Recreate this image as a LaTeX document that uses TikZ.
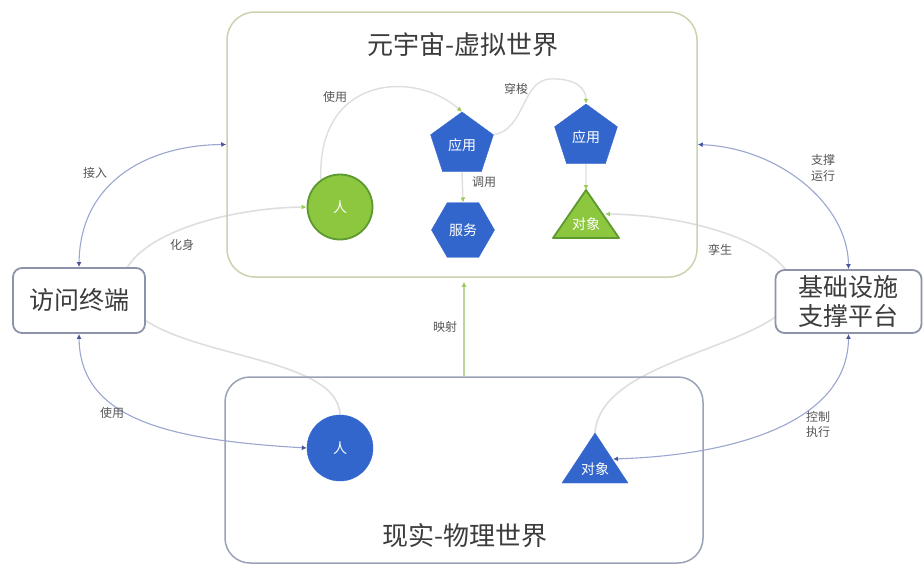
\documentclass[tikz,border=0pt]{standalone}
\usepackage{fontspec}
\setmainfont{Noto Sans CJK SC}
\usetikzlibrary{shapes.geometric,arrows.meta,backgrounds}
\definecolor{nblue}{HTML}{3366CC}
\definecolor{ngreen}{HTML}{8DC63F}
\definecolor{ngreenD}{HTML}{5C9A30}
\definecolor{topframe}{HTML}{C9D3AE}
\definecolor{botframe}{HTML}{9AA2B8}
\definecolor{boxframe}{HTML}{8D94AA}
\definecolor{linkblue}{HTML}{9AA6CF}
\definecolor{tipblue}{HTML}{45569C}
\definecolor{lightlink}{HTML}{DEDEDE}
\definecolor{tipgreen}{HTML}{9CCB55}
\definecolor{maplink}{HTML}{B9D894}
\definecolor{titlegray}{HTML}{3C3C3C}
\definecolor{labelgray}{HTML}{555555}
\tikzset{
  bluetip/.tip={Latex[length=5pt,width=5pt,color=tipblue]},
  greentip/.tip={Latex[length=5pt,width=5pt,color=tipgreen]},
}
\begin{document}
\begin{tikzpicture}[x=1pt,y=-1pt,
  bigbox/.style={draw, line width=1.5pt, rounded corners=28pt, inner sep=0},
  sidebox/.style={draw=boxframe, line width=1.8pt, fill=white, rounded corners=9pt, inner sep=0, align=center, text=titlegray, font=\fontsize{25}{29}\selectfont},
  bluefill/.style={fill=nblue, draw=nblue, text=white, inner sep=0, font=\fontsize{14}{16}\selectfont},
  greenfill/.style={fill=ngreen, draw=ngreenD, line width=1.8pt, text=white, inner sep=0, font=\fontsize{14}{16}\selectfont},
  pent/.style={regular polygon, regular polygon sides=5, minimum size=66pt},
  hexa/.style={regular polygon, regular polygon sides=6, minimum size=63pt},
  lbl/.style={text=labelgray, font=\fontsize{12}{14}\selectfont, inner sep=1pt, align=center},
  outer/.style={draw=linkblue, line width=1.1pt},
  soft/.style={draw=lightlink, line width=1.6pt},
  innerlink/.style={draw=lightlink, line width=1.4pt, -greentip},
]
\useasboundingbox (0,0) rectangle (924,565);

% frames
\node[bigbox, draw=topframe, minimum width=470pt, minimum height=265pt] (vw) at (462,144.5) {};
\node[text=titlegray, font=\fontsize{26}{30}\selectfont] (vwt) at (463,45) {元宇宙-虚拟世界};
\node[bigbox, draw=botframe, rounded corners=25pt, minimum width=478pt, minimum height=186pt] (rw) at (464,470) {};
\node[text=titlegray, font=\fontsize{26}{30}\selectfont] (rwt) at (465,536) {现实-物理世界};
\node[sidebox, minimum width=132pt, minimum height=65pt] (term) at (79,300.5) {访问终端};
\node[sidebox, minimum width=146pt, minimum height=63pt] (infra) at (848.5,301.5) {基础设施\\支撑平台};

% virtual world shapes
\node[circle, greenfill, minimum size=65pt] (vp) at (340,207) {人};
\node[pent, bluefill] (app1) at (462,145) {应用};
\node[hexa, bluefill] (svc) at (463,230) {服务};
\node[pent, bluefill] (app2) at (586,137) {应用};
\coordinate (voA) at (586,190);
\coordinate (voL) at (553,238);
\coordinate (voR) at (619,238);
\coordinate (voE) at (605,214);
\path[fill=ngreen, draw=ngreenD, line width=1.8pt, line join=round] (voA) -- (voL) -- (voR) -- cycle;
\node[text=white, font=\fontsize{14}{16}\selectfont] (vo) at (586,224) {对象};

% real world shapes
\node[circle, bluefill, minimum size=66pt] (rp) at (340,448) {人};
\coordinate (roA) at (595,433);
\coordinate (roL) at (562,483);
\coordinate (roR) at (628,483);
\coordinate (roE) at (613,459);
\path[fill=nblue, draw=nblue, line join=round] (roA) -- (roL) -- (roR) -- cycle;
\node[text=white, font=\fontsize{14}{16}\selectfont] (ro) at (595,469) {对象};

\begin{scope}[on background layer]
  % outer links
  \draw[outer, bluetip-bluetip] (term.north) .. controls (80,180) and (150,145) .. (vw.west);
  \draw[outer, bluetip-bluetip] (term.south) .. controls (80,420) and (170,440) .. (rp.west);
  \draw[outer, bluetip-bluetip] (vw.east) .. controls (780,148) and (848,205) .. (infra.north);
  \draw[outer, bluetip-bluetip] (infra.south) .. controls (848,420) and (740,455) .. (roE);
  % avatar / twin
  \draw[soft, -greentip] (rp.north) .. controls (338,350) and (150,360) .. (122,295)
        .. controls (112,240) and (220,208) .. (vp.west);
  \draw[soft, -greentip] (roA) .. controls (600,360) and (760,350) .. (793,300)
        .. controls (805,250) and (700,215) .. (voE);
  % mapping
  \draw[draw=maplink, line width=1.2pt, -greentip, shorten >=4pt] (rw.north) -- (rw.north |- vw.south);
  % inner links
  \draw[innerlink] (vp.125) .. controls (317,75) and (415,70) .. (app1.north);
  \draw[innerlink] (app1.corner 5) .. controls (525,130) and (522,80) .. (550,79)
        .. controls (575,78) and (586,88) .. (app2.north);
  \draw[innerlink] (app1.south) -- (svc.north);
  \draw[innerlink] (app2.south) -- (voA);
\end{scope}

% labels
\node[lbl] (l1) at (335,97) {使用};
\node[lbl] (l2) at (516,89) {穿梭};
\node[lbl] (l3) at (484,182) {调用};
\node[lbl] (l4) at (95,173) {接入};
\node[lbl] (l5) at (182,245) {化身};
\node[lbl] (l6) at (112,413) {使用};
\node[lbl] (l7) at (445,327) {映射};
\node[lbl, font=\fontsize{12}{16}\selectfont] (l8) at (823,168) {支撑\\运行};
\node[lbl] (l9) at (720,250) {孪生};
\node[lbl, font=\fontsize{12}{15}\selectfont] (l10) at (818,424) {控制\\执行};
\end{tikzpicture}
\end{document}
